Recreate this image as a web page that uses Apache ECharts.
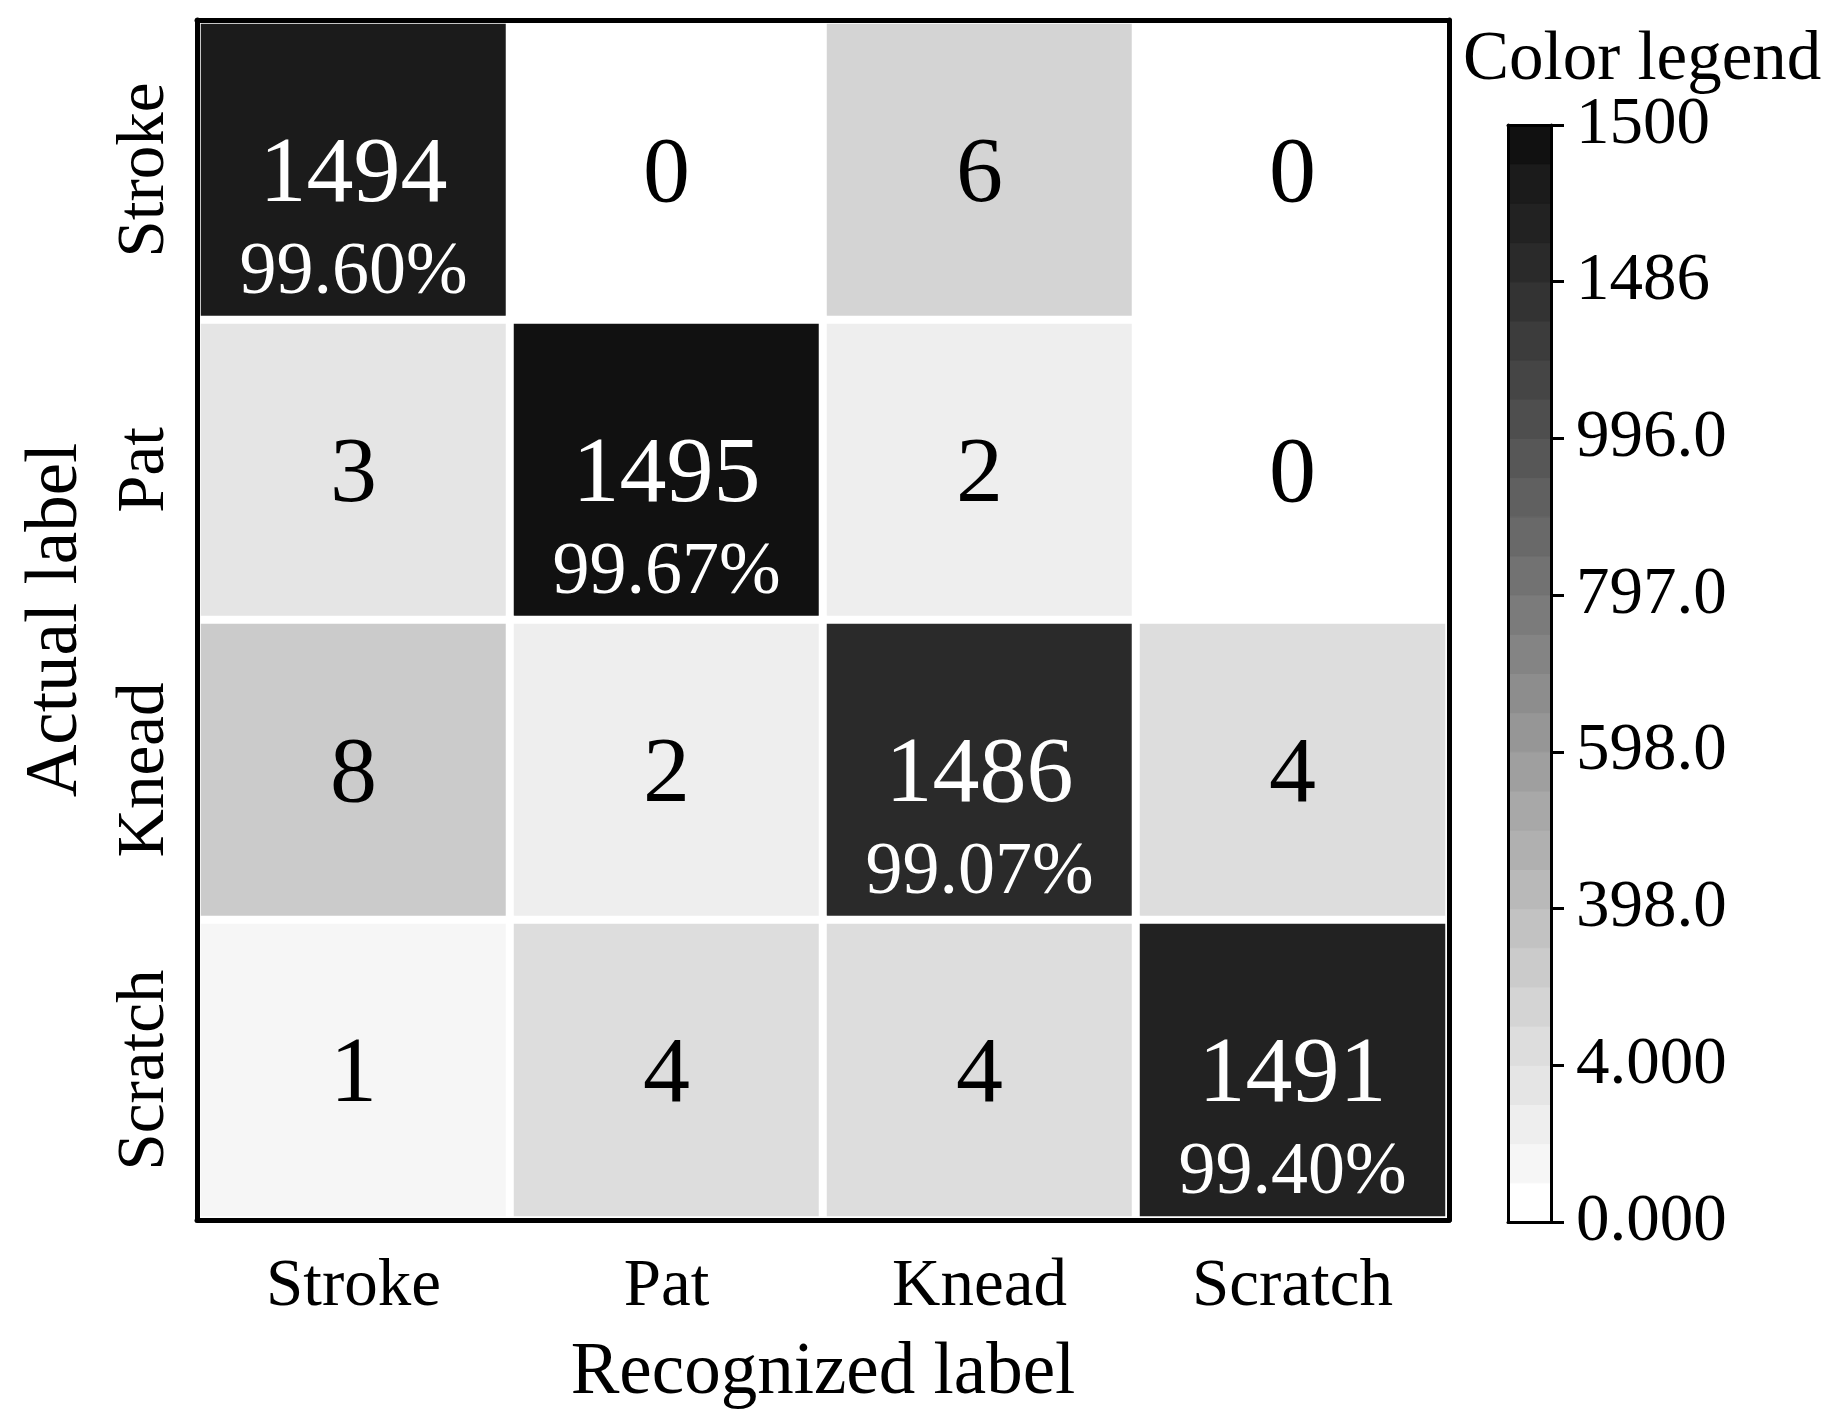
<!DOCTYPE html>
<html>
<head>
<meta charset="utf-8">
<title>Confusion matrix</title>
<script src="https://cdn.jsdelivr.net/npm/echarts@6/dist/echarts.min.js"></script>
<style>
html, body { margin: 0; padding: 0; background: #fff; }
#main { width: 1825px; height: 1427px; }
</style>
</head>
<body>
<div id="main"></div>
<script>
var classes = ['Stroke', 'Pat', 'Knead', 'Scratch'];
// rows = actual label, columns = recognized label
var rowStroke = [1494, 0, 6, 0];
var rowPat = [3, 1495, 2, 0];
var rowKnead = [8, 2, 1486, 4];
var rowScratch = [1, 4, 4, 1491];
var diagPercent = ['99.60%', '99.67%', '99.07%', '99.40%'];

// colour legend: start value of each of the 28 grey levels, bottom to top
var levelStart = [0, 1, 2, 3, 4, 6, 8, 203, 398, 448, 498, 548, 598, 648, 698, 747,
    797, 847, 897, 946, 996, 1119, 1241, 1364, 1486, 1491, 1494, 1495];
var levelMax = 1500;
var legendTicks = ['0.000', '4.000', '398.0', '598.0', '797.0', '996.0', '1486', '1500'];

var greys = ['#ffffff', '#f6f6f6', '#eeeeee', '#e5e5e5', '#dddddd', '#d4d4d4', '#cbcbcb', '#c2c2c2',
    '#b9b9b9', '#b0b0b0', '#a8a8a8', '#9f9f9f', '#969696', '#8d8d8d', '#848484', '#7b7b7b',
    '#727272', '#696969', '#606060', '#575757', '#4e4e4e', '#454545', '#3c3c3c', '#333333',
    '#2a2a2a', '#222222', '#1b1b1b', '#111111'];

var font = "'Liberation Serif', 'Times New Roman', serif";

var matrix = [rowStroke, rowPat, rowKnead, rowScratch];
var cells = [];
for (var r = 0; r < matrix.length; r++) {
    for (var c = 0; c < matrix[r].length; c++) {
        var item = {value: [c, r, matrix[r][c]]};
        if (r === c) {
            item.label = {color: '#fff', offset: [0, 54]};
        }
        cells.push(item);
    }
}

var pieces = [];
for (var i = 0; i < levelStart.length; i++) {
    pieces.push({
        gte: levelStart[i],
        lt: i + 1 < levelStart.length ? levelStart[i + 1] : levelMax + 1,
        color: greys[i]
    });
}

var levelData = [];
for (var i = 0; i < greys.length; i++) {
    levelData.push([i]);
}

var lineStyle = {color: '#000', width: 5};
var cbLine = {color: '#000', width: 3};

var dom = document.getElementById('main');
var myChart = echarts.init(dom, null, {renderer: 'canvas'});
var option;
option = {
    animation: false,
    backgroundColor: '#fff',
    textStyle: {fontFamily: font, color: '#000'},
    title: {
        text: 'Color legend',
        left: 1458,
        top: 21,
        textStyle: {fontFamily: font, fontSize: 69, fontWeight: 'normal', color: '#000'}
    },
    grid: [
        {left: 197, top: 20, width: 1252, height: 1200},
        {left: 1508, top: 125, width: 43, height: 1097}
    ],
    xAxis: [
        {
            type: 'category', gridIndex: 0, data: classes, position: 'bottom', z: 5,
            name: 'Recognized label', nameLocation: 'middle', nameGap: 117,
            nameTextStyle: {fontFamily: font, fontSize: 73, color: '#000'},
            axisLine: {lineStyle: lineStyle},
            axisTick: {alignWithLabel: true, length: 22, lineStyle: {color: '#000', width: 3}},
            axisLabel: {fontFamily: font, fontSize: 67, color: '#000', margin: 34},
            splitLine: {show: false}
        },
        {
            type: 'category', gridIndex: 0, data: classes, position: 'top', z: 5,
            axisLine: {lineStyle: lineStyle},
            axisTick: {show: false}, axisLabel: {show: false}, splitLine: {show: false}
        },
        {
            type: 'value', gridIndex: 1, min: 0, max: 1, position: 'bottom', z: 5,
            axisLine: {show: true, onZero: false, lineStyle: cbLine},
            axisTick: {show: false}, axisLabel: {show: false}, splitLine: {show: false}
        },
        {
            type: 'value', gridIndex: 1, min: 0, max: 1, position: 'top', z: 5,
            axisLine: {show: true, onZero: false, lineStyle: cbLine},
            axisTick: {show: false}, axisLabel: {show: false}, splitLine: {show: false}
        }
    ],
    yAxis: [
        {
            type: 'category', gridIndex: 0, data: classes, inverse: true, position: 'left', z: 5,
            name: 'Actual label', nameLocation: 'middle', nameGap: 104,
            nameTextStyle: {fontFamily: font, fontSize: 73, color: '#000'},
            axisLine: {lineStyle: lineStyle},
            axisTick: {alignWithLabel: true, length: 22, lineStyle: {color: '#000', width: 3}},
            axisLabel: {fontFamily: font, fontSize: 67, color: '#000', rotate: 90, margin: 18},
            splitLine: {show: false}
        },
        {
            type: 'category', gridIndex: 0, data: classes, inverse: true, position: 'right', z: 5,
            axisLine: {lineStyle: lineStyle},
            axisTick: {show: false}, axisLabel: {show: false}, splitLine: {show: false}
        },
        {
            type: 'value', gridIndex: 1, min: 0, max: 28, interval: 4, position: 'right', z: 5,
            axisLine: {show: true, onZero: false, lineStyle: cbLine},
            axisTick: {show: true, length: 13, lineStyle: {color: '#000', width: 3}},
            axisLabel: {
                fontFamily: font, fontSize: 67, color: '#000', margin: 25,
                padding: [8, 0, 0, 0],
                formatter: function (v) { return legendTicks[v / 4]; }
            },
            splitLine: {show: false}
        },
        {
            type: 'value', gridIndex: 1, min: 0, max: 28, interval: 4, position: 'left', z: 5,
            axisLine: {show: true, onZero: false, lineStyle: cbLine},
            axisTick: {show: false}, axisLabel: {show: false}, splitLine: {show: false}
        }
    ],
    visualMap: {
        type: 'piecewise',
        show: false,
        seriesIndex: 0,
        dimension: 2,
        pieces: pieces
    },
    series: [
        {
            type: 'heatmap',
            xAxisIndex: 0,
            yAxisIndex: 0,
            data: cells,
            itemStyle: {borderColor: '#fff', borderWidth: 8},
            emphasis: {disabled: true},
            label: {
                show: true,
                color: '#000',
                offset: [0, 6],
                fontFamily: font,
                formatter: function (p) {
                    var x = p.value[0], y = p.value[1];
                    if (x === y) {
                        return '{n|' + p.value[2] + '}\n{p|' + diagPercent[x] + '}';
                    }
                    return '{n|' + p.value[2] + '}';
                },
                rich: {
                    n: {fontFamily: font, fontSize: 94, lineHeight: 100},
                    p: {fontFamily: font, fontSize: 74, lineHeight: 96}
                }
            }
        },
        {
            type: 'custom',
            xAxisIndex: 2,
            yAxisIndex: 2,
            data: levelData,
            silent: true,
            renderItem: function (params, api) {
                var i = api.value(0);
                var p0 = api.coord([0, i]);
                var p1 = api.coord([1, i + 1]);
                return {
                    type: 'rect',
                    shape: {x: p0[0], y: p1[1], width: p1[0] - p0[0], height: p0[1] - p1[1]},
                    style: {fill: greys[i], stroke: greys[i], lineWidth: 1}
                };
            }
        }
    ]
};

if (option && typeof option === 'object') {
    myChart.setOption(option);
}
window.onresize = function () {
    myChart.resize();
};
</script>
</body>
</html>
